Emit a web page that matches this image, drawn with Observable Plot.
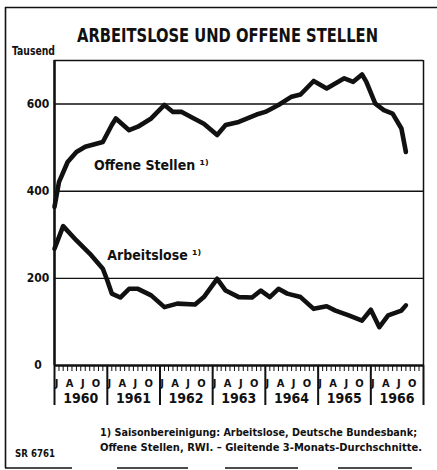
<!DOCTYPE html>
<html>
<head>
<meta charset="utf-8">
<script src="https://cdn.jsdelivr.net/npm/d3@7"></script>
<script src="https://cdn.jsdelivr.net/npm/@observablehq/plot@0.6"></script>
<style>
  html, body { margin: 0; padding: 0; background: #fff; }
  #wrap { position: relative; width: 437px; height: 470px; overflow: hidden; background: #fff; }
  #wrap svg { position: absolute; left: 0; top: 0; }
</style>
</head>
<body>
<div id="wrap"></div>
<script>
// ---------- data (thousands) ----------
const offeneDates = ["1960-01","1960-02","1960-04","1960-06","1960-08","1960-12",
  "1961-02","1961-03","1961-06","1961-08","1961-11",
  "1962-02","1962-04","1962-06","1962-08","1962-11",
  "1963-02","1963-04","1963-07","1963-11",
  "1964-01","1964-04","1964-07","1964-09","1964-12",
  "1965-03","1965-07","1965-09","1965-11","1965-12",
  "1966-02","1966-04","1966-06","1966-08","1966-09"];
const offeneValues = [364,421,467,490,502,513,
  552,567,540,548,567,
  598,582,582,571,555,
  529,552,559,576,
  582,598,617,622,653,
  636,659,651,668,651,
  601,586,578,544,490];

const arbeitDates = ["1960-01","1960-03","1960-06","1960-09","1960-12",
  "1961-01","1961-02","1961-04","1961-06","1961-08","1961-11",
  "1962-02","1962-05","1962-09","1962-11",
  "1963-02","1963-04","1963-07","1963-10","1963-12",
  "1964-02","1964-04","1964-06","1964-09","1964-12",
  "1965-03","1965-05","1965-08","1965-11",
  "1966-01","1966-03","1966-05","1966-08","1966-09"];
const arbeitValues = [268,320,287,257,222,
  195,165,156,176,176,161,
  134,142,140,157,
  199,172,157,156,172,
  157,176,165,157,130,
  136,126,115,103,
  128,88,115,126,138];

const seriesLabels = ["Offene Stellen \u00b9\u207e", "Arbeitslose \u00b9\u207e"];
const labelDates = ["1960-10", "1961-01"];
const labelValues = [460, 252];

const yTicks = [0, 200, 400, 600];
const gridValues = [200, 400, 600];
const yMax = 700;
const quarterLabels = ["J", "A", "J", "O"];
const yearLabels = ["1960","1961","1962","1963","1964","1965","1966"];
const xStart = "1960-01", xEnd = "1967-01";

const titleText = "ARBEITSLOSE UND OFFENE STELLEN";
const unitText = "Tausend";
const noteLines = ["1) Saisonbereinigung: Arbeitslose, Deutsche Bundesbank;",
                   "Offene Stellen, RWI. \u2013 Gleitende 3-Monats-Durchschnitte."];
const codeText = "SR 6761";

// ---------- build ----------
const INK = "#111";
const FONT = "'Liberation Sans Narrow','DejaVu Sans Condensed','Liberation Sans',Arial,sans-serif";
const parse = d3.utcParse("%Y-%m");
const offene = offeneDates.map((d, i) => ({date: parse(d), value: offeneValues[i]}));
const arbeit = arbeitDates.map((d, i) => ({date: parse(d), value: arbeitValues[i]}));
const labels = seriesLabels.map((t, i) => ({label: t, date: parse(labelDates[i]), value: labelValues[i]}));

const x0 = parse(xStart), x1 = parse(xEnd);
const monthTicks = d3.utcMonth.range(x0, x1);
const yearStarts = yearLabels.map(y => new Date(Date.UTC(+y, 0, 1))).concat([x1]);
const yearMids = yearLabels.map(y => new Date(Date.UTC(+y, 6, 1)));
const quarterTicks = yearLabels.flatMap(y => quarterLabels.map((q, k) => new Date(Date.UTC(+y, k * 3, 15))));

const chart = Plot.plot({
  width: 437,
  height: 420,
  marginTop: 60,
  marginBottom: 55,
  marginLeft: 54,
  marginRight: 14,
  x: {type: "utc", domain: [x0, x1]},
  y: {domain: [0, yMax]},
  style: {fontFamily: FONT, fontWeight: "bold", background: "transparent", color: INK, overflow: "visible"},
  marks: [
    Plot.ruleY(gridValues, {stroke: INK, strokeWidth: 1.4}),
    Plot.ruleY([yMax], {stroke: INK, strokeWidth: 1.4}),
    Plot.ruleX([x1], {stroke: INK, strokeWidth: 1.5}),
    Plot.ruleX([x0], {stroke: INK, strokeWidth: 2.6}),
    Plot.ruleY([0], {stroke: INK, strokeWidth: 2.6}),
    Plot.line(offene, {x: "date", y: "value", stroke: INK, strokeWidth: 4.6, strokeLinejoin: "round", strokeLinecap: "round"}),
    Plot.line(arbeit, {x: "date", y: "value", stroke: INK, strokeWidth: 4.6, strokeLinejoin: "round", strokeLinecap: "round"}),
    Plot.text(labels, {x: "date", y: "value", text: "label", textAnchor: "start", fontSize: 14, fontWeight: "bold", fill: INK}),
    Plot.axisY(yTicks, {label: null, tickSize: 0, tickPadding: 16.5, textAnchor: "middle", fontSize: 12, fontWeight: "bold", fill: INK}),
    Plot.axisX(monthTicks, {label: null, tickSize: 6, tickFormat: () => "", stroke: INK, strokeWidth: 1}),
    Plot.axisX(quarterTicks, {label: null, tickSize: 0, tickPadding: 14, fontSize: 11, fontWeight: "bold", fill: INK,
      tickFormat: d => quarterLabels[Math.floor(d.getUTCMonth() / 3)]}),
    Plot.axisX(yearMids, {label: null, tickSize: 0, tickPadding: 28, fontSize: 14, fontWeight: "bold", fill: INK,
      tickFormat: d => String(d.getUTCFullYear())}),
    Plot.axisX(yearStarts, {label: null, tickSize: 40, tickFormat: () => "", stroke: INK, strokeWidth: 2})
  ]
});
document.getElementById("wrap").appendChild(chart);

// ---------- title, unit, notes and border ----------
const ov = d3.select("#wrap").append("svg")
  .attr("width", 437).attr("height", 470)
  .style("pointer-events", "none")
  .style("font-family", FONT).style("font-weight", "bold").attr("fill", INK);

ov.append("line").attr("x1", 5.5).attr("x2", 5.5).attr("y1", 7).attr("y2", 468).attr("stroke", INK).attr("stroke-width", 1.6);
ov.append("line").attr("x1", 5).attr("x2", 437).attr("y1", 7.5).attr("y2", 7.5).attr("stroke", INK).attr("stroke-width", 1.6);
ov.append("line").attr("x1", 5).attr("x2", 437).attr("y1", 468).attr("y2", 468).attr("stroke", INK).attr("stroke-width", 1.4)
  .attr("stroke-dasharray", "67,45,71,37,73,40,74,30");

function txt(s, x, y, size, len, anchor) {
  const t = ov.append("text").attr("x", x).attr("y", y).attr("font-size", size)
    .attr("text-anchor", anchor || "start").text(s);
  if (len) t.attr("textLength", len).attr("lengthAdjust", "spacingAndGlyphs");
  return t;
}
txt(titleText, 77, 41.7, 19, 301);
txt(unitText, 12, 55, 12, 43);
txt(noteLines[0], 100, 436, 11, 317);
txt(noteLines[1], 100, 451, 11, 322);
txt(codeText, 15, 457, 11, 40);
</script>
</body>
</html>
